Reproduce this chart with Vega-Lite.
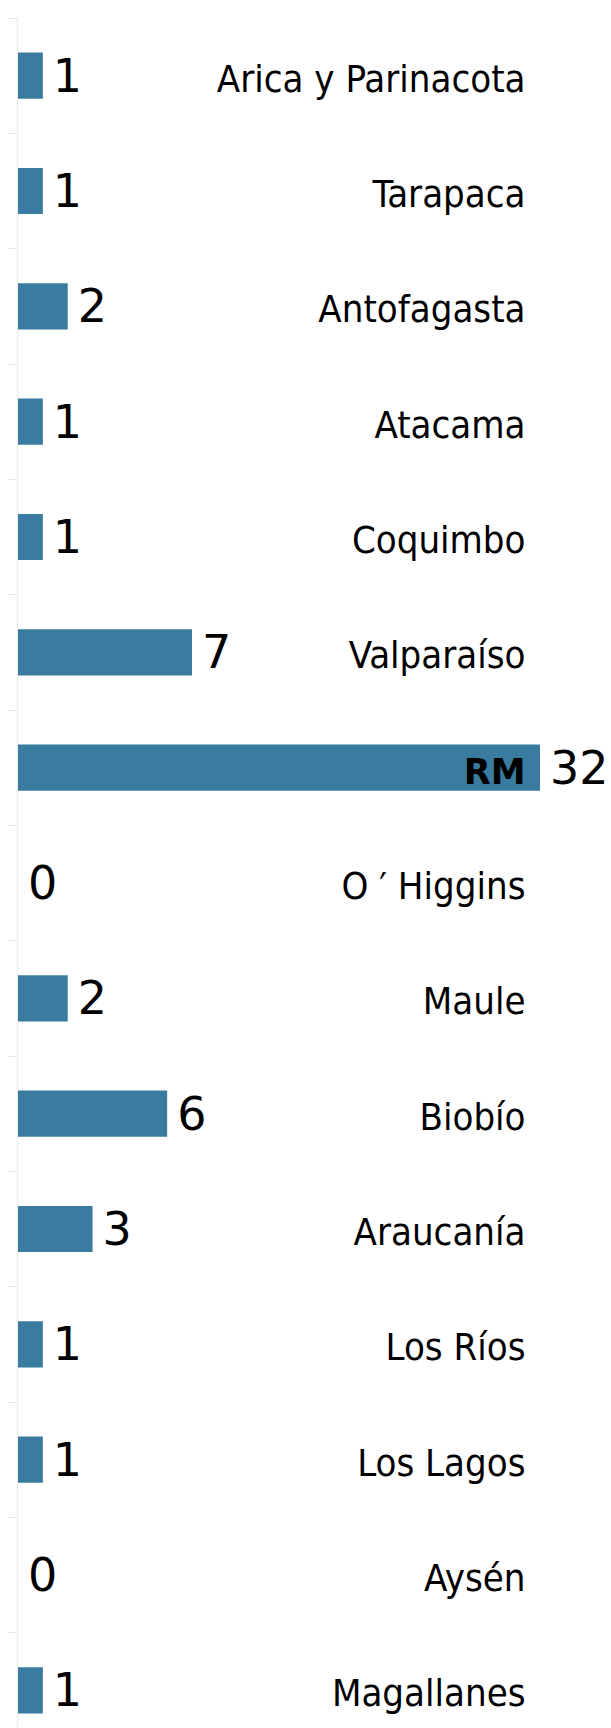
{
  "$schema": "https://vega.github.io/schema/vega-lite/v6.json",
  "width": 611,
  "height": 1728,
  "autosize": {"type": "none"},
  "padding": 0,
  "background": "white",
  "config": {"view": {"stroke": null}},
  "data": {
    "values": [
      {"region": "Arica y Parinacota", "n": 1},
      {"region": "Tarapaca", "n": 1},
      {"region": "Antofagasta", "n": 2},
      {"region": "Atacama", "n": 1},
      {"region": "Coquimbo", "n": 1},
      {"region": "Valparaíso", "n": 7},
      {"region": "RM", "n": 32},
      {"region": "O ′ Higgins", "n": 0},
      {"region": "Maule", "n": 2},
      {"region": "Biobío", "n": 6},
      {"region": "Araucanía", "n": 3},
      {"region": "Los Ríos", "n": 1},
      {"region": "Los Lagos", "n": 1},
      {"region": "Aysén", "n": 0},
      {"region": "Magallanes", "n": 1}
    ]
  },
  "resolve": {"axis": {"y": "independent"}},
  "layer": [
    {
      "mark": {"type": "bar", "color": "#3a7ba0", "height": {"band": 0.4}},
      "encoding": {
        "y": {
          "field": "region", "type": "nominal", "sort": null,
          "scale": {"range": [18, 1748], "paddingInner": 0, "paddingOuter": 0},
          "axis": {
            "orient": "left", "offset": -17, "title": null, "labels": false,
            "bandPosition": 0, "tickSize": 10, "tickColor": "#e6e6e6",
            "domainColor": "#eeeeee", "domainWidth": 1.5
          }
        },
        "x": {
          "field": "n", "type": "quantitative",
          "scale": {"domain": [0, 21], "range": [18, 540], "clamp": true, "nice": false},
          "axis": null
        }
      }
    },
    {
      "mark": {"type": "text", "align": "left", "baseline": "middle", "dx": 10, "dy": 2, "font": "DejaVu Sans", "fontSize": 46, "color": "black"},
      "encoding": {
        "y": {
          "field": "region", "type": "nominal", "sort": null,
          "axis": {
            "orient": "right", "offset": -86, "title": null, "domain": false,
            "ticks": false, "tickSize": 0, "labelPadding": 0, "labelAlign": "right",
            "labelOffset": 5, "labelLimit": 1000, "labelOverlap": false, "labelBound": false,
            "labelFlush": false, "zindex": 1, "labelColor": "black",
            "labelFont": {"condition": {"test": "datum.value === 'RM'", "value": "DejaVu Sans"}, "value": "DejaVu Sans Condensed"},
            "labelFontWeight": {"condition": {"test": "datum.value === 'RM'", "value": "bold"}, "value": "normal"},
            "labelFontSize": {"condition": {"test": "datum.value === 'RM'", "value": 35}, "value": 38}
          }
        },
        "x": {"field": "n", "type": "quantitative"},
        "text": {"field": "n", "type": "quantitative"}
      }
    }
  ]
}
